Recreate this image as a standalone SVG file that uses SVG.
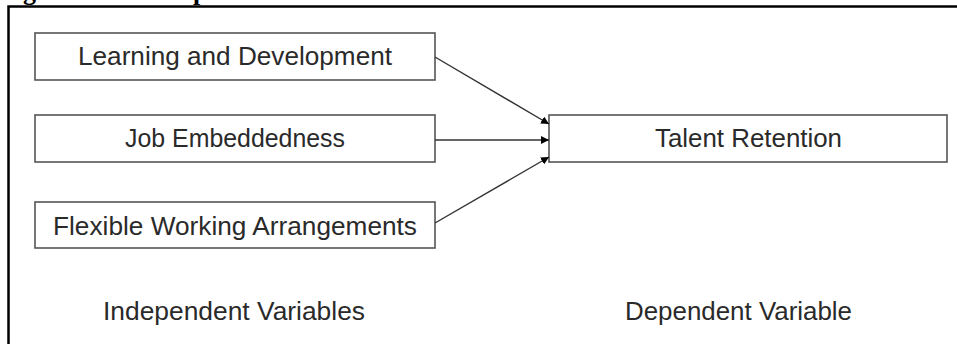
<svg xmlns="http://www.w3.org/2000/svg" width="957" height="344" viewBox="0 0 957 344">
  <defs>
    <style>
      .box { fill: #ffffff; stroke: #555555; stroke-width: 1.6; }
      .lbl { font-family: "Liberation Sans", Arial, sans-serif; font-size: 25px; fill: #2a2a2a; }
      .title { font-family: "Liberation Serif", "Times New Roman", serif; font-size: 26px; font-weight: bold; fill: #000000; }
      .frame { fill: none; stroke: #000000; stroke-width: 2.5; }
      .conn { fill: none; stroke: #333333; stroke-width: 1.4; }
    </style>
    <marker id="arrow" viewBox="0 0 10 10" refX="10" refY="5" markerWidth="8" markerHeight="8" markerUnits="userSpaceOnUse" orient="auto">
      <path d="M0,0 L10,5 L0,10 Z" fill="#000000"/>
    </marker>
  </defs>
  <rect width="957" height="344" fill="#ffffff"/>

  <text class="title" y="-0.5"><tspan x="0">Figure 1: Conce</tspan><tspan x="193">ptual Framework</tspan></text>

  <path class="frame" d="M8.5,344 L8.5,6.5 L957,6.5"/>

  <g id="learning-development">
    <rect class="box" x="35" y="33" width="400" height="47"/>
    <text class="lbl" x="78" y="65" textLength="314" lengthAdjust="spacingAndGlyphs">Learning and Development</text>
  </g>
  <g id="job-embeddedness">
    <rect class="box" x="35" y="115" width="400" height="47"/>
    <text class="lbl" x="125" y="147" textLength="220" lengthAdjust="spacingAndGlyphs">Job Embeddedness</text>
  </g>
  <g id="flexible-working">
    <rect class="box" x="35" y="202" width="400" height="46"/>
    <text class="lbl" x="53" y="235" textLength="364" lengthAdjust="spacingAndGlyphs">Flexible Working Arrangements</text>
  </g>
  <g id="talent-retention">
    <rect class="box" x="549" y="115" width="398" height="47"/>
    <text class="lbl" x="655" y="147" textLength="187" lengthAdjust="spacingAndGlyphs">Talent Retention</text>
  </g>

  <g id="connectors">
    <line class="conn" x1="435" y1="57" x2="549" y2="124" marker-end="url(#arrow)"/>
    <line class="conn" x1="435" y1="140" x2="549" y2="140" marker-end="url(#arrow)"/>
    <line class="conn" x1="435" y1="223" x2="549" y2="157" marker-end="url(#arrow)"/>
  </g>

  <g id="captions">
    <text class="lbl" x="103" y="320" textLength="262" lengthAdjust="spacingAndGlyphs">Independent Variables</text>
    <text class="lbl" x="625" y="320" textLength="227" lengthAdjust="spacingAndGlyphs">Dependent Variable</text>
  </g>
</svg>
